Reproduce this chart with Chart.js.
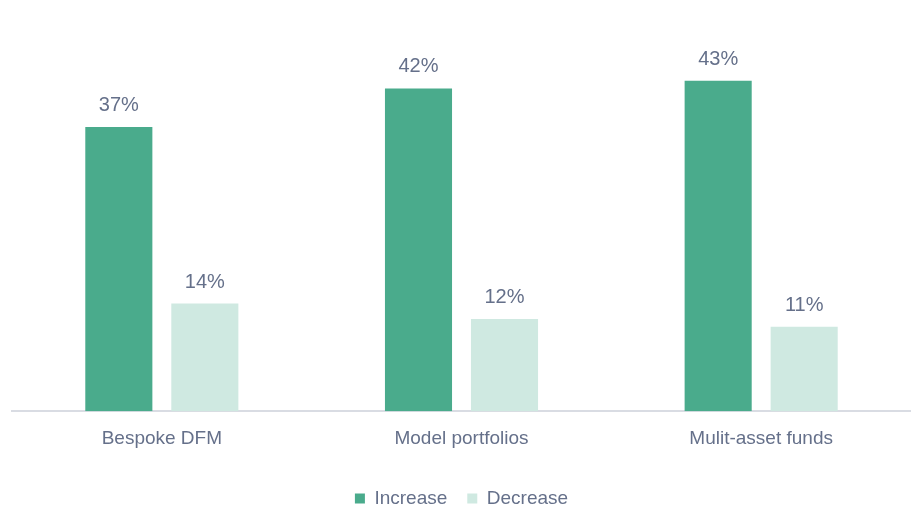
<!DOCTYPE html>
<html>
<head>
<meta charset="utf-8">
<script src="https://cdn.jsdelivr.net/npm/chart.js@4/dist/chart.umd.min.js"></script>
<style>
    html, body { margin: 0; padding: 0; background: #ffffff; overflow: hidden; }
    #wrap { width: 911px; height: 508px; position: relative; }
</style>
</head>
<body>
<div id="wrap"><canvas id="myChart"></canvas></div>
<script>
var categories = ["Bespoke DFM", "Model portfolios", "Mulit-asset funds"]
var increaseValues = [37, 42, 43]
var decreaseValues = [14, 12, 11]
var seriesNames = ["Increase", "Decrease"]

var textColor = "#65708a"
var fontFamily = "'Liberation Sans', Arial, sans-serif"

// draws "NN%" above each bar
var barLabels = {
    id: "barLabels",
    afterDatasetsDraw: function (chart) {
        var ctx = chart.ctx
        ctx.save()
        ctx.font = "20px " + fontFamily
        ctx.fillStyle = textColor
        ctx.textAlign = "center"
        ctx.textBaseline = "alphabetic"
        chart.data.datasets.forEach(function (ds, i) {
            var meta = chart.getDatasetMeta(i)
            meta.data.forEach(function (bar, j) {
                ctx.fillText(ds.data[j] + "%", bar.x, bar.y - 16)
            })
        })
        ctx.restore()
    }
}

var ctx = document.getElementById("myChart").getContext("2d")
new Chart(ctx, {
    type: "bar",
    data: {
        labels: categories,
        datasets: [{
            label: seriesNames[0],
            data: increaseValues,
            backgroundColor: "#4aab8c",
            barPercentage: 0.78,
            categoryPercentage: 0.574
        }, {
            label: seriesNames[1],
            data: decreaseValues,
            backgroundColor: "#cfe9e1",
            barPercentage: 0.78,
            categoryPercentage: 0.574
        }]
    },
    options: {
        responsive: true,
        maintainAspectRatio: false,
        animation: false,
        layout: {
            padding: { top: 27, left: 12, right: 0, bottom: -10 }
        },
        plugins: {
            legend: {
                position: "bottom",
                labels: {
                    boxWidth: 10,
                    boxHeight: 10,
                    color: textColor,
                    font: { size: 19, family: fontFamily },
                    padding: 20
                }
            },
            tooltip: { enabled: false }
        },
        scales: {
            x: {
                grid: { display: false, drawTicks: false },
                border: { display: true, color: "#d9dce3", width: 2 },
                ticks: {
                    color: textColor,
                    padding: 16,
                    font: { size: 19, family: fontFamily }
                },
                afterFit: function (scale) {
                    scale.height += 3
                }
            },
            y: {
                display: false,
                min: 0,
                max: 50
            }
        }
    },
    plugins: [barLabels]
})
</script>
</body>
</html>
